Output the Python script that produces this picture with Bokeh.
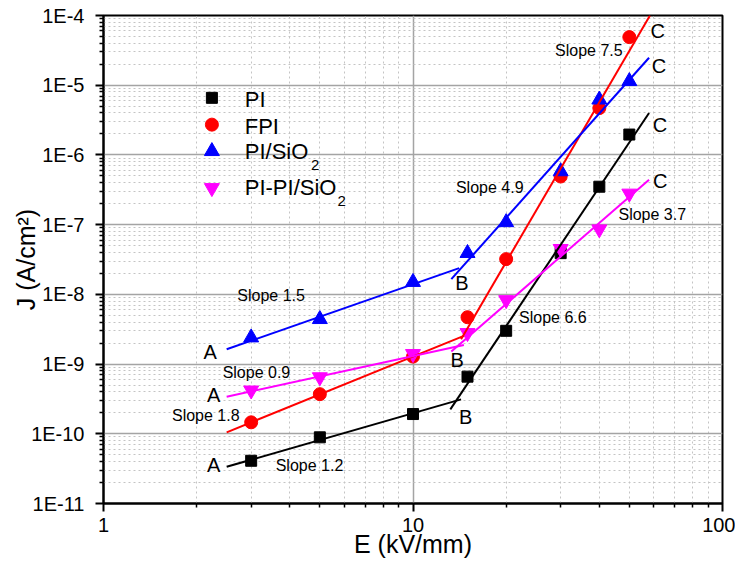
import math
from bokeh.plotting import figure
from bokeh.models import Range1d, FixedTicker, CustomJSTickFormatter, Label
from bokeh.embed import file_html
from bokeh.resources import INLINE

# ---------------- data ----------------
E = [3, 5, 10, 15, 20, 30, 40, 50]                      # kV/mm
J_PI = [4.1e-11, 8.9e-11, 1.92e-10, 6.6e-10, 3.0e-9, 3.9e-8, 3.5e-7, 1.96e-6]
J_FPI = [1.46e-10, 3.7e-10, 1.28e-9, 4.7e-9, 3.2e-8, 4.9e-7, 4.7e-6, 4.9e-5]
J_PISIO2 = [2.4e-9, 4.4e-9, 1.5e-8, 3.9e-8, 1.08e-7, 5.8e-7, 6.2e-6, 1.14e-5]
J_PIPI = [4.2e-10, 6.5e-10, 1.4e-9, 2.8e-9, 8.3e-9, 4.5e-8, 8.6e-8, 2.8e-7]

# fitted segments A-B and B-C (endpoints)
PI_AB_E, PI_AB_J = [2.5, 14.3], [3.36e-11, 3.12e-10]
PI_BC_E, PI_BC_J = [13.2, 57.9], [2.24e-10, 4.0e-6]
FPI_AB_E, FPI_AB_J = [2.5, 14.6], [1.05e-10, 2.54e-9]
FPI_BC_E, FPI_BC_J = [14.3, 58.3], [2.27e-9, 1.0e-4]
SIO2_AB_E, SIO2_AB_J = [2.5, 14.1], [1.63e-9, 2.38e-8]
SIO2_BC_E, SIO2_BC_J = [13.3, 57.9], [1.65e-8, 2.48e-5]
PIPI_AB_E, PIPI_AB_J = [2.5, 14.6], [3.4e-10, 1.88e-9]
PIPI_BC_E, PIPI_BC_J = [13.3, 57.9], [1.51e-9, 4.42e-7]

X_TICKS = [1, 10, 100]
Y_EXPONENTS = [-11, -10, -9, -8, -7, -6, -5, -4]

FONT = "Liberation Sans"

p = figure(width=735, height=564, x_axis_type="log", y_axis_type="log",
           x_range=Range1d(1, 100), y_range=Range1d(1e-11, 1e-4),
           output_backend="svg", toolbar_location=None,
           min_border_left=103, min_border_right=13, min_border_top=15,
           min_border_bottom=61)
p.background_fill_color = "white"
p.border_fill_color = "white"
p.outline_line_color = "black"
p.outline_line_width = 2
p.outline_line_alpha = 1.0

# ticks
x_minor = [k * 10.0 ** e for e in (0, 1) for k in range(2, 10)]
y_major = [10.0 ** e for e in Y_EXPONENTS]
y_minor = [k * 10.0 ** e for e in Y_EXPONENTS[:-1] for k in range(2, 10)]
p.xaxis.ticker = FixedTicker(ticks=X_TICKS, minor_ticks=x_minor)
p.yaxis.ticker = FixedTicker(ticks=y_major, minor_ticks=y_minor)
p.xaxis.formatter = CustomJSTickFormatter(code="return String(Math.round(tick));")
p.yaxis.formatter = CustomJSTickFormatter(code="return '1E' + Math.round(Math.log10(tick));")

for ax in (p.xaxis, p.yaxis):
    ax.axis_line_width = 2
    ax.axis_line_color = "black"
    ax.major_tick_line_width = 2
    ax.minor_tick_line_width = 1.5
    ax.major_tick_out = 8
    ax.major_tick_in = 0
    ax.minor_tick_out = 4
    ax.minor_tick_in = 0
    ax.major_label_text_font = FONT
    ax.major_label_text_font_size = "20px"
    ax.major_label_text_color = "black"
    ax.axis_label_text_font = FONT
    ax.axis_label_text_font_size = "25px"
    ax.axis_label_text_font_style = "normal"
    ax.axis_label_text_color = "black"

p.xaxis.major_label_standoff = 6
p.yaxis.major_label_standoff = 11
p.xaxis.axis_label = "E (kV/mm)"
p.yaxis.axis_label = "J (A/cm\u00b2)"
p.xaxis.axis_label_standoff = -5
p.yaxis.axis_label_standoff = -12

for g in (p.xgrid, p.ygrid):
    g.grid_line_color = "#a4a4a4"
    g.grid_line_width = 1.5
    g.minor_grid_line_color = "#c4c4c4"
    g.minor_grid_line_dash = "2 3"
    g.minor_grid_line_width = 1

# data points
p.scatter(E, J_PI, marker="square", size=11, color="black")
p.scatter(E, J_FPI, marker="circle", size=13, color="red")
p.scatter(E, J_PISIO2, marker="triangle", size=15, color="blue")
p.scatter(E, J_PIPI, marker="inverted_triangle", size=15, color="magenta")

# fit lines
for xs, ys, c in [(PI_AB_E, PI_AB_J, "black"), (PI_BC_E, PI_BC_J, "black"),
                  (FPI_AB_E, FPI_AB_J, "red"), (FPI_BC_E, FPI_BC_J, "red"),
                  (SIO2_AB_E, SIO2_AB_J, "blue"), (SIO2_BC_E, SIO2_BC_J, "blue"),
                  (PIPI_AB_E, PIPI_AB_J, "magenta"), (PIPI_BC_E, PIPI_BC_J, "magenta")]:
    p.line(xs, ys, line_color=c, line_width=2)


def lab(text, x, y, size, align="center", angle=0.0, color="black"):
    p.add_layout(Label(x=x, y=y, text=text, text_font=FONT,
                       text_font_size=f"{size}px", text_color=color,
                       text_align=align, text_baseline="middle", angle=angle))


# A / B / C labels
for x, y in [(2.21, 1.49e-9), (2.27, 3.6e-10), (2.27, 3.55e-11)]:
    lab("A", x, y, 20)
for x, y in [(14.4, 1.45e-8), (13.9, 1.15e-9), (14.8, 1.75e-10)]:
    lab("B", x, y, 20)
for x, y in [(61.8, 5.97e-5), (62.3, 1.87e-5), (62.8, 2.72e-6), (62.9, 4.18e-7)]:
    lab("C", x, y, 20)

# slope labels
for t, x, y in [("Slope 7.5", 37.0, 3.15e-5), ("Slope 4.9", 17.7, 3.36e-7),
                ("Slope 1.5", 3.48, 9.5e-9), ("Slope 0.9", 3.12, 7.6e-10),
                ("Slope 1.8", 2.14, 1.82e-10), ("Slope 1.2", 4.63, 3.47e-11),
                ("Slope 6.6", 28.3, 4.7e-9), ("Slope 3.7", 59.3, 1.39e-7)]:
    lab(t, x, y, 16)

# legend (manual)
LEG_X = 2.24
p.scatter([LEG_X], [6.59e-6], marker="square", size=11, color="black")
p.scatter([LEG_X], [2.72e-6], marker="circle", size=13, color="red")
p.scatter([LEG_X], [1.13e-6], marker="triangle", size=15, color="blue")
p.scatter([LEG_X], [3.36e-7], marker="inverted_triangle", size=15, color="magenta")
lab("PI", 2.86, 6.24e-6, 22, align="left")
lab("FPI", 2.86, 2.58e-6, 22, align="left")
lab("PI/SiO", 2.86, 1.13e-6, 22, align="left")
lab("2", 4.68, 7.26e-7, 15, align="left")
lab("PI-PI/SiO", 2.86, 3.36e-7, 22, align="left")
lab("2", 5.70, 2.17e-7, 15, align="left")

open("out.html", "w").write(file_html(p, INLINE))
